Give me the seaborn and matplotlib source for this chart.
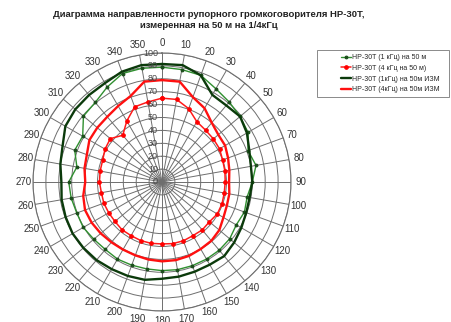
import numpy as np
import pandas as pd
import matplotlib
matplotlib.use("Agg")
import matplotlib.pyplot as plt
import matplotlib.transforms as mtransforms
from matplotlib.patches import Rectangle
import seaborn as sns

# Directional pattern angles (degrees) and grid labels
angles_deg = list(range(0, 360, 10))
angle_labels = [str(a) for a in angles_deg]
radial_ticks = list(range(0, 101, 10))

# Measured levels, one value per 10 degrees starting from 0
hp30_1k_50m = [89, 88.5, 88, 83.5, 81, 79, 77, 71, 74, 70,
               67, 68, 66.5, 68.5, 69, 69, 69, 69, 68.7, 68.4,
               68.6, 69, 68.3, 69, 70.5, 70.3, 71.5, 72.3, 67, 72,
               71, 79.5, 80.5, 85, 89.5, 89.5]
hp30_4k_50m = [65, 65, 60.5, 54, 52.5, 52, 51.5, 50, 49.5, 49,
               49, 49.5, 49.5, 48, 48.5, 48, 48.5, 48.5, 48, 48.3,
               48.3, 48, 48.3, 47.6, 47.7, 48, 47.7, 48.5, 48.7, 49,
               51, 52.3, 47.3, 54.6, 62, 63]
hp30_1k_izm = [91.5, 92, 88, 78, 77.5, 79, 76, 72, 70, 70,
               69, 69.5, 71, 73, 75, 74, 74, 74.5, 75, 77,
               77.5, 78, 79, 79.5, 80, 79.5, 79, 78, 80, 82,
               86.5, 87.7, 88, 88.5, 91, 92]
hp30_4k_izm = [79, 79, 70, 66, 60, 57, 56.5, 54.5, 53, 52,
               53, 53.5, 55, 58, 59.5, 60, 61, 61.5, 61.5, 61,
               60.5, 60.5, 61, 62, 63, 63.5, 62, 59.5, 61, 62,
               65, 65.5, 66, 68, 71, 79]

series_names = ["НР-30Т (1 кГц) на 50 м",
                "НР-30Т (4 кГц на 50 м)",
                "НР-30Т (1кГц) на 50м ИЗМ",
                "НР-30Т (4кГц) на 50м ИЗМ"]
series_values = [hp30_1k_50m, hp30_4k_50m, hp30_1k_izm, hp30_4k_izm]

title_text = ("Диаграмма направленности рупорного громкоговорителя НР-30Т,\n"
              "измеренная на 50 м на 1/4кГц")

sns.set_theme(style="white")
plt.rcParams["font.family"] = ["Liberation Sans", "DejaVu Sans"]

styles = [
    dict(color="#2f8f2f", lw=1.0, marker="o", markersize=2.0,
         markerfacecolor="#1b4d1b", markeredgecolor="#1b4d1b"),
    dict(color="#ff1a1a", lw=1.1, marker="o", markersize=2.6,
         markerfacecolor="#ff0000", markeredgecolor="#ff0000"),
    dict(color="#0b3a0b", lw=1.7, marker=None),
    dict(color="#ff1010", lw=1.7, marker=None),
]

# Long-form table, each curve closed by repeating its first point
rows = []
for name, vals in zip(series_names, series_values):
    closed = list(vals) + [vals[0]]
    thetas = np.deg2rad(angles_deg + [360])
    for i, (t, v) in enumerate(zip(thetas, closed)):
        rows.append({"series": name, "order": i, "theta": t, "level": v})
df = pd.DataFrame(rows)

W, H = 452, 322
cx, cy, rad = 162, 182, 129
fig = plt.figure(figsize=(W / 100, H / 100), dpi=100)
fig.patch.set_facecolor("white")
ax = fig.add_axes([(cx - rad) / W, (H - cy - rad) / H, 2 * rad / W, 2 * rad / H],
                  projection="polar")
ax.set_theta_zero_location("N")
ax.set_theta_direction(-1)
ax.set_facecolor("white")

for name, st in zip(series_names, styles):
    sub = df[df["series"] == name]
    sns.lineplot(data=sub, x="theta", y="level", ax=ax, sort=False,
                 estimator=None, label=name, **st)

ax.set_ylim(0, 100)
ax.set_xlabel("")
ax.set_ylabel("")
ax.set_thetagrids(angles_deg, angle_labels)
ax.set_rgrids(radial_ticks[1:], labels=[""] * (len(radial_ticks) - 1))
ax.grid(True, color="#6e6e6e", lw=0.7)
ax.spines["polar"].set_color("#6e6e6e")
ax.spines["polar"].set_linewidth(0.8)
ax.tick_params(axis="x", pad=0, length=0, labelsize=7, colors="#333333")
for line in ax.get_lines():
    line.set_zorder(3)

# Radial scale labels along the 0 degree spoke
off = mtransforms.offset_copy(ax.transData, fig=fig, x=-4, y=0, units="dots")
for r in radial_ticks:
    ax.text(0, r, str(r), transform=off, ha="right", va="center",
            fontsize=6.5, color="#444444", zorder=4)

handles, labels = ax.get_legend_handles_labels()
if ax.get_legend() is not None:
    ax.get_legend().remove()

# Legend box drawn as a plain rectangle, entries placed inside it
box_l, box_t, box_r, box_b = 317, 50, 449, 97
fig.patches.append(Rectangle((box_l / W, 1 - box_b / H),
                             (box_r - box_l) / W, (box_b - box_t) / H,
                             transform=fig.transFigure, fill=False,
                             edgecolor="#8a8a8a", lw=0.7))
leg = fig.legend(handles, labels, loc="upper left",
                 bbox_to_anchor=(341 / W, 1 - 54 / H),
                 fontsize=5.0, frameon=False, handlelength=1.5,
                 handletextpad=0.1, labelspacing=0.55, borderpad=0,
                 borderaxespad=0)

fig.text(209 / W, 1 - 10 / H, title_text, ha="center", va="top",
         fontsize=6.8, fontweight="bold", color="#222222", linespacing=1.3)

fig.savefig("out.png", dpi=100, facecolor="white")
